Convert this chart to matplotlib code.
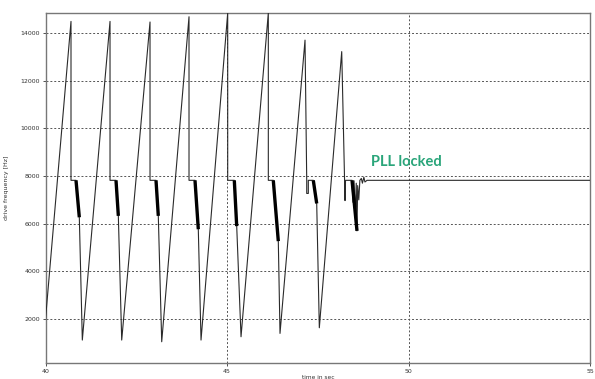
import matplotlib
matplotlib.use("Agg")
import matplotlib.pyplot as plt

# ---- data ----
# main trace: (time [s], drive frequency [Hz])
t_trace = [40.0,
           40.702, 40.702, 40.840, 40.931, 41.014,
           41.777, 41.777, 41.942, 42.006, 42.099,
           42.879, 42.879, 43.044, 43.107, 43.201,
           43.953, 43.953, 44.118, 44.209, 44.284,
           45.019, 45.019, 45.201, 45.267, 45.386,
           46.138, 46.138, 46.275, 46.413, 46.460,
           47.149, 47.196, 47.196, 47.240, 47.240, 47.377, 47.471, 47.543,
           48.160, 48.251, 48.265, 48.444,
           48.47, 48.50, 48.53, 48.56, 48.58, 48.60, 48.63, 48.66,
           48.70, 48.73, 48.77, 48.80, 48.857, 55.0]
f_trace = [2000,
           14485, 7820, 7820, 6270, 1121,
           14485, 7820, 7820, 6330, 1121,
           14460, 7820, 7820, 6330, 1050,
           14680, 7820, 7820, 5770, 1121,
           14840, 7820, 7820, 5900, 1260,
           14840, 7820, 7820, 5270, 1400,
           13700, 7820, 7270, 7270, 7820, 7820, 6850, 1636,
           13218, 6970, 7820, 7820,
           6900, 7800, 6300, 7700, 5700, 7600, 7000, 7820,
           7900, 7700, 7950, 7750, 7820, 7820]

# noisy (thick) descent segments after each flat part
noisy_t0 = [40.840, 41.942, 43.044, 44.118, 45.201, 46.275, 47.377, 48.444]
noisy_t1 = [40.931, 42.006, 43.107, 44.209, 45.267, 46.413, 47.471, 48.581]
noisy_f0 = [7820, 7820, 7820, 7820, 7820, 7820, 7820, 7820]
noisy_f1 = [6270, 6330, 6330, 5770, 5900, 5270, 6850, 5700]

x_ticks = [40, 45, 50, 55]
y_ticks = [2000, 4000, 6000, 8000, 10000, 12000, 14000]
annotation = "PLL locked"

# ---- figure ----
fig = plt.figure(figsize=(5.95, 3.79), dpi=100)
ax = fig.add_axes([0.0765, 0.0414, 0.9151, 0.9251])

ax.plot(t_trace, f_trace, color="#2a2a2a", linewidth=0.8, zorder=3)
for a, b, c, d in zip(noisy_t0, noisy_t1, noisy_f0, noisy_f1):
    ax.plot([a, b], [c, d], color="black", linewidth=2.4, zorder=4,
            solid_capstyle="butt")

ax.set_xlim(40, 55)
ax.set_ylim(146, 14850)
ax.set_xticks(x_ticks)
ax.set_yticks(y_ticks)
ax.tick_params(labelsize=4.5, length=2, width=0.6, colors="#333333", pad=2)
ax.grid(True, linestyle=(0, (2, 2)), color="#555555", linewidth=0.7)
for s in ax.spines.values():
    s.set_color("#777777")
    s.set_linewidth(1.0)

ax.set_ylabel("drive frequency [Hz]", fontsize=4.5, color="#333333", labelpad=8)
ax.set_xlabel("time in sec", fontsize=4.2, color="#333333", labelpad=0.5)

ax.text(49.93, 8573, annotation, color="#2aa57a", fontsize=10.5,
        fontweight="bold", family=["Lato", "DejaVu Sans"],
        ha="center", va="center", zorder=5)

fig.savefig("out.png", dpi=100)
